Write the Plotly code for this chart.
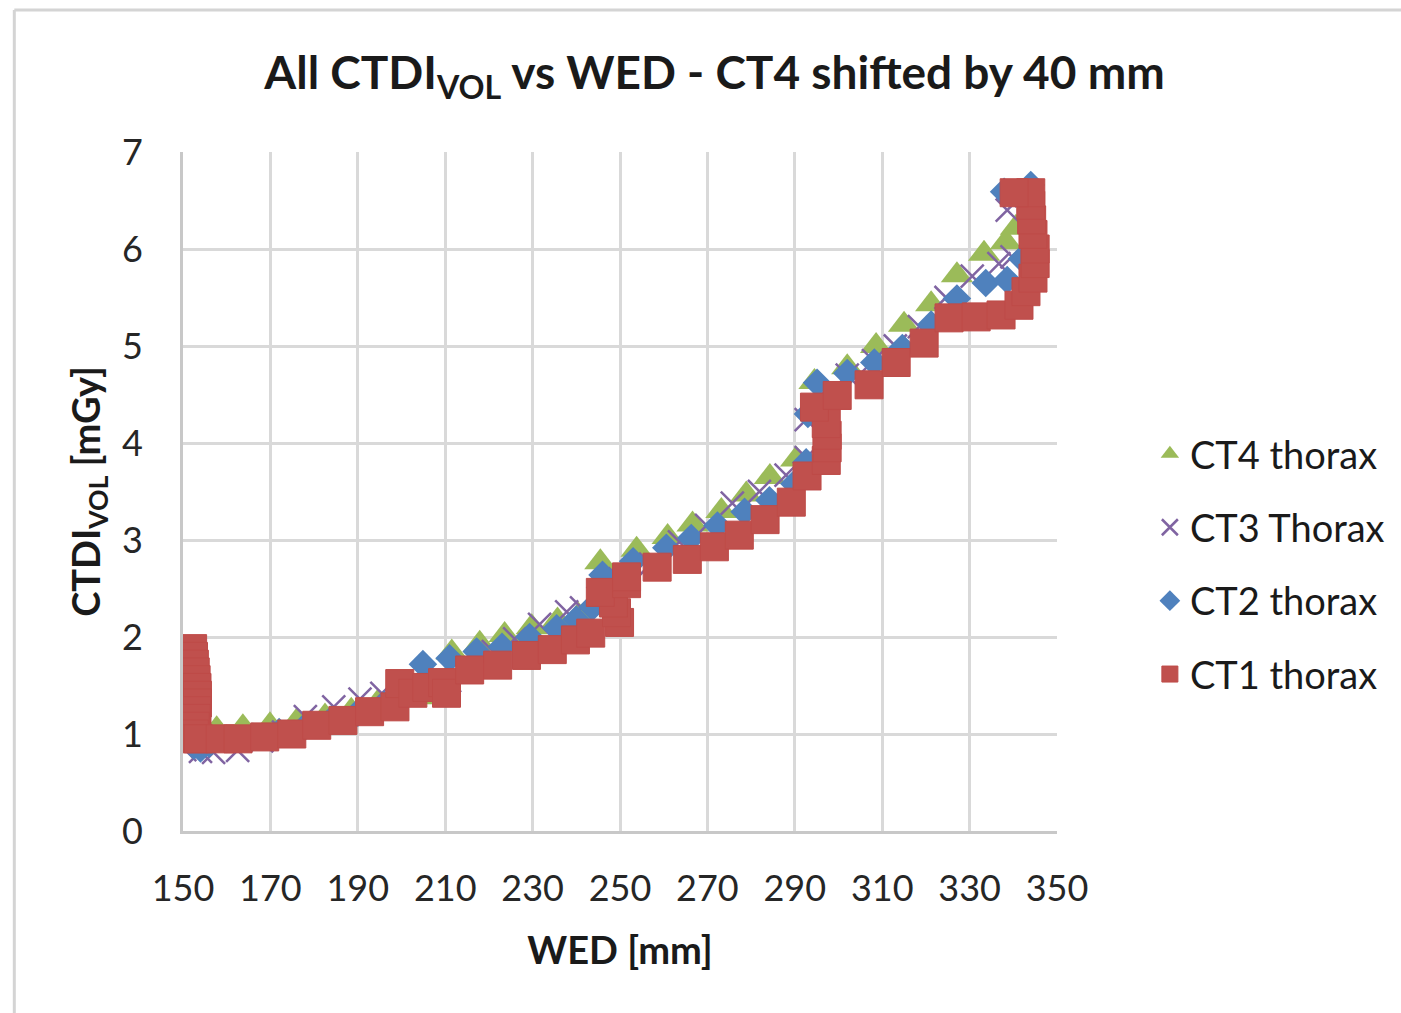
import plotly.graph_objects as go

# ---------------- data ----------------
ct4_x = [152.0, 157.7, 163.7, 169.9, 176.0, 182.5, 188.5, 194.5, 200.0, 204.0, 208.0,
         211.5, 217.9, 223.6, 229.8, 235.7, 240.5, 245.5, 253.8, 260.9, 266.6, 273.2,
         278.9, 284.3, 290.3, 294.5, 302.0, 308.6, 315.0, 321.2, 327.1, 333.3, 338.3, 340.6]
ct4_y = [0.98, 1.05, 1.07, 1.09, 1.13, 1.18, 1.24, 1.32, 1.38, 1.38, 1.40,
         1.84, 1.93, 2.02, 2.10, 2.17, 2.22, 2.77, 2.90, 3.03, 3.16, 3.30,
         3.47, 3.65, 3.83, 4.63, 4.78, 5.00, 5.22, 5.43, 5.73, 5.95, 6.07, 6.22]

ct3_x = [150.4, 154.0, 157.0, 162.5, 168.0, 173.0, 178.0, 184.5, 190.5, 195.5, 201.0,
         206.0, 211.0, 216.0, 221.0, 225.9, 231.6, 237.8, 241.2, 245.0, 250.0, 257.0,
         263.6, 269.8, 275.7, 281.9, 288.0, 292.6, 292.6, 296.0, 302.0, 308.0, 313.0,
         318.5, 324.6, 330.6, 336.7, 339.7, 338.6, 343.0]
ct3_y = [0.84, 0.82, 0.81, 0.83, 0.93, 1.02, 1.18, 1.28, 1.36, 1.42, 1.46,
         1.50, 1.55, 1.65, 1.85, 1.98, 2.13, 2.26, 2.30, 2.40, 2.60, 2.75,
         2.98, 3.15, 3.38, 3.50, 3.67, 3.85, 4.24, 4.50, 4.70, 4.85, 5.00,
         5.20, 5.50, 5.72, 5.85, 5.92, 6.40, 6.55]

ct2_x = [150.3, 151.0, 152.5, 154.0, 156.0, 160.0, 166.0, 172.0, 178.0, 184.0, 190.0,
         196.0, 200.0, 204.9, 211.0, 217.2, 223.0, 229.3, 235.5, 240.0, 243.7, 246.0,
         253.0, 260.6, 266.3, 272.3, 278.5, 284.2, 289.9, 292.6, 293.0, 295.1, 302.0,
         308.2, 314.6, 321.2, 327.1, 333.7, 338.6, 342.0, 337.9, 344.0]
ct2_y = [1.25, 0.95, 0.88, 0.85, 0.90, 0.95, 0.97, 1.02, 1.08, 1.15, 1.22,
         1.30, 1.45, 1.72, 1.78, 1.85, 1.90, 2.00, 2.09, 2.18, 2.31, 2.64,
         2.78, 2.92, 3.02, 3.15, 3.29, 3.41, 3.58, 3.80, 4.30, 4.62, 4.72,
         4.83, 4.98, 5.22, 5.49, 5.65, 5.68, 5.90, 6.59, 6.66]

ct1_x = [152.2, 152.4, 152.6, 152.8, 153.0, 153.2, 153.3, 153.3, 153.2, 153.0, 152.8,
         152.6, 152.4, 153.5, 158.5, 162.6, 168.7, 174.9, 180.6, 186.6, 192.7, 198.5,
         199.6, 202.6, 205.8, 209.4, 210.3, 215.6, 222.0, 228.6, 234.5, 239.8, 243.3,
         249.9, 249.2, 248.5, 245.5, 251.5, 251.5, 258.5, 265.4, 271.6, 277.3, 283.2,
         289.2, 292.8, 297.2, 297.4, 297.4, 297.2, 294.5, 299.7, 307.0, 313.2, 319.6,
         325.3, 331.5, 337.2, 341.3, 342.9, 344.5, 345.0, 345.0, 344.5, 344.2, 344.0,
         344.0, 340.2]
ct1_y = [1.88, 1.80, 1.72, 1.64, 1.56, 1.48, 1.40, 1.32, 1.24, 1.16, 1.08,
         1.00, 0.95, 0.95, 0.95, 0.95, 0.97, 1.00, 1.09, 1.14, 1.23, 1.28,
         1.52, 1.42, 1.48, 1.53, 1.42, 1.66, 1.71, 1.81, 1.87, 1.97, 2.04,
         2.15, 2.25, 2.35, 2.46, 2.55, 2.62, 2.72, 2.80, 2.93, 3.05, 3.21,
         3.39, 3.66, 3.82, 3.95, 4.08, 4.20, 4.37, 4.49, 4.60, 4.83, 5.03,
         5.29, 5.30, 5.32, 5.42, 5.56, 5.70, 5.85, 6.00, 6.15, 6.30, 6.45,
         6.58, 6.58]

series_names = ["CT4 thorax", "CT3 Thorax", "CT2 thorax", "CT1 thorax"]
x_ticks = [150, 170, 190, 210, 230, 250, 270, 290, 310, 330, 350]
y_ticks = [0, 1, 2, 3, 4, 5, 6, 7]

# ---------------- figure ----------------
FONT = "Lato, 'Open Sans', sans-serif"
fig = go.Figure()

fig.add_trace(go.Scatter(x=ct4_x, y=ct4_y, mode="markers", name=series_names[0],
                         legendgroup="g4",
                         marker=dict(symbol="triangle-up", size=28, color="#9BBB59",
                                     line=dict(width=0))))
fig.add_trace(go.Scatter(x=ct3_x, y=ct3_y, mode="markers", name=series_names[1],
                         legendgroup="g3",
                         marker=dict(symbol="x-thin-open", size=23, color="#8064A2",
                                     line=dict(width=2.5, color="#8064A2"))))
fig.add_trace(go.Scatter(x=ct2_x, y=ct2_y, mode="markers", name=series_names[2],
                         legendgroup="g2",
                         marker=dict(symbol="diamond", size=22, color="#4F81BD",
                                     line=dict(width=0))))
fig.add_trace(go.Scatter(x=ct1_x, y=ct1_y, mode="markers", name=series_names[3],
                         legendgroup="g1",
                         marker=dict(symbol="square", size=28, color="#C0504D",
                                     line=dict(width=1, color="#BE4B48"))))

grid = "#d9d9d9"
fig.update_layout(
    width=1401, height=1013,
    margin=dict(l=183, r=343, t=152, b=182),
    paper_bgcolor="white", plot_bgcolor="white",
    font=dict(family=FONT, size=36, color="#262626"),
    title=dict(text="<b>All CTDI<sub>VOL</sub> vs WED - CT4 shifted by 40 mm</b>",
               x=0.51, xref="container", xanchor="center",
               y=0.928, yref="container", yanchor="middle",
               font=dict(family=FONT, size=46, color="#1a1a1a")),
    showlegend=True,
    legend=dict(x=1.105, xanchor="left", y=0.393, yanchor="middle",
                font=dict(family=FONT, size=38, color="#1a1a1a"),
                tracegroupgap=21, bgcolor="rgba(0,0,0,0)", itemwidth=30),
    xaxis=dict(range=[150, 350], tickvals=x_ticks, ticktext=[str(v) for v in x_ticks],
               showgrid=True, gridcolor=grid, gridwidth=3,
               showline=True, linecolor="#c8c8c8", linewidth=3,
               zeroline=False, ticks="", ticklabelstandoff=24,
               tickfont=dict(family=FONT, size=36, color="#262626"),
               title=dict(text="<b>WED [mm]</b>", standoff=30,
                          font=dict(family=FONT, size=38, color="#1a1a1a"))),
    yaxis=dict(range=[0, 7], tickvals=y_ticks, ticktext=[str(v) for v in y_ticks],
               showgrid=True, gridcolor=grid, gridwidth=3,
               showline=True, linecolor="#c8c8c8", linewidth=3,
               zeroline=False, ticks="", ticklabelstandoff=30,
               tickfont=dict(family=FONT, size=36, color="#262626"),
               title=dict(text="<b>CTDI<sub>VOL</sub> [mGy]</b>", standoff=10,
                          font=dict(family=FONT, size=38, color="#1a1a1a"))),
    shapes=[
        dict(type="line", xref="paper", yref="paper",
             x0=-0.193, x1=1.40, y0=1.209, y1=1.209,
             line=dict(color="#d4d4d4", width=3)),
        dict(type="line", xref="paper", yref="paper",
             x0=-0.193, x1=-0.193, y0=1.209, y1=-0.28,
             line=dict(color="#d4d4d4", width=3)),
    ],
)

fig.write_html("out.html")
